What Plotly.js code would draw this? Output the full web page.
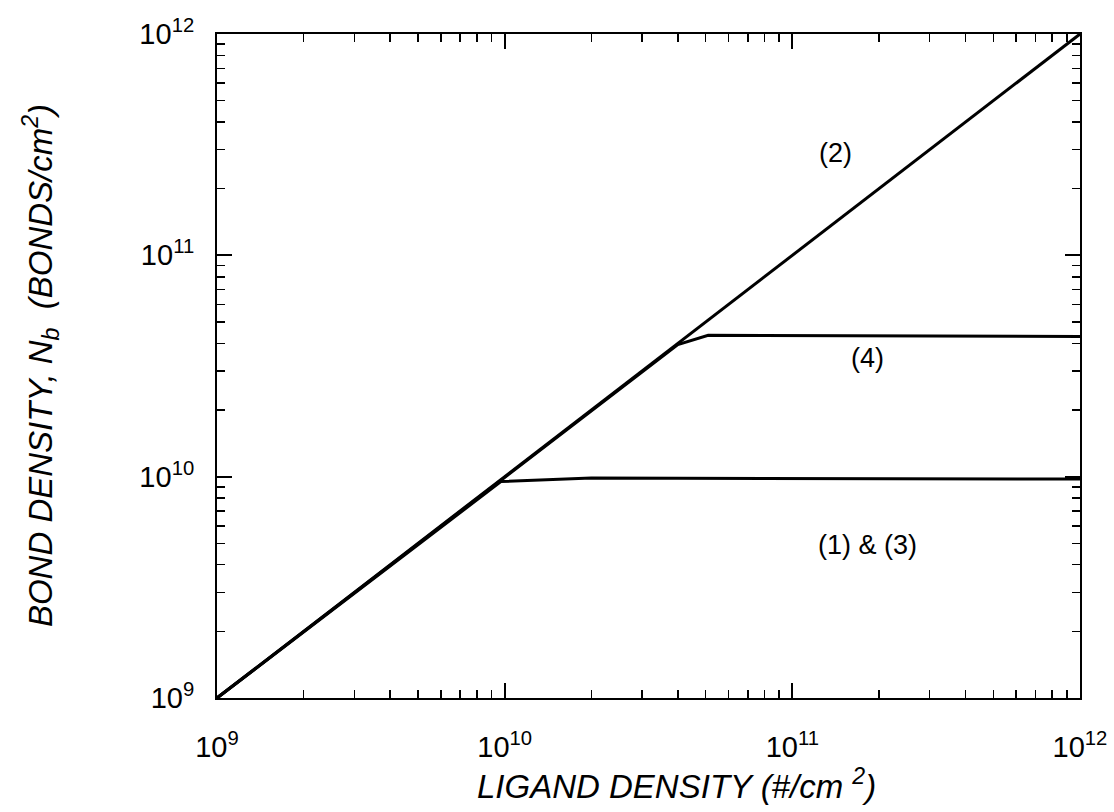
<!DOCTYPE html>
<html>
<head>
<meta charset="utf-8">
<script src="https://cdn.plot.ly/plotly-3.0.1.min.js"></script>
<style>html,body{margin:0;padding:0;background:#fff;}#chart{width:1114px;height:812px;}</style>
</head>
<body>
<div id="chart"></div>
<script>
// Curve (2): bond density equals ligand density
const curve2X = [1e9, 1e12];
const curve2Y = [1e9, 1e12];
// Curve (4)
const curve4X = [1e9, 4.0e10, 5.1e10, 1e12];
const curve4Y = [1e9, 3.95e10, 4.35e10, 4.3e10];
// Curves (1) & (3)
const curve13X = [1e9, 9.7e9, 2.0e10, 1e12];
const curve13Y = [1e9, 9.5e9, 9.85e9, 9.75e9];

const majorTicks = [1e9, 1e10, 1e11, 1e12];
const majorTickText = ['10<sup>9</sup>', '10<sup>10</sup>', '10<sup>11</sup>', '10<sup>12</sup>'];
const minorTicks = [];
[1e9, 1e10, 1e11].forEach(d => { for (let m = 2; m <= 9; m++) minorTicks.push(m * d); });

const xTitle = 'LIGAND DENSITY (#/cm&nbsp;<sup>2</sup>)';
const yTitle = 'BOND DENSITY, N<sub>b</sub>&nbsp;&nbsp;(BONDS/cm<sup>2</sup>)';

const curveLabels = [
  {text: '(2)', x: 1.41e11, y: 2.9e11},
  {text: '(4)', x: 1.83e11, y: 3.42e10},
  {text: '(1) &amp; (3)', x: 1.83e11, y: 4.9e9}
];

const font = 'Liberation Sans, Arial, Helvetica, sans-serif';
const lineStyle = {color: '#000', width: 3};

const traces = [
  {x: curve2X, y: curve2Y, mode: 'lines', line: lineStyle, name: '(2)'},
  {x: curve4X, y: curve4Y, mode: 'lines', line: lineStyle, name: '(4)'},
  {x: curve13X, y: curve13Y, mode: 'lines', line: lineStyle, name: '(1) & (3)'}
];

const axisCommon = {
  type: 'log',
  range: [9, 12],
  tickmode: 'array',
  tickvals: majorTicks,
  ticktext: majorTickText,
  ticks: 'inside',
  ticklen: 15,
  tickwidth: 2,
  tickcolor: '#000',
  showline: true,
  linecolor: '#000',
  linewidth: 2,
  mirror: 'allticks',
  showgrid: false,
  zeroline: false,
  tickfont: {family: font, size: 29, color: '#000'},
  minor: {tickmode: 'array', tickvals: minorTicks, ticks: 'inside', ticklen: 8, tickwidth: 1.5, tickcolor: '#000', showgrid: false}
};

const titleFont = {family: font, size: 33, color: '#000', style: 'italic'};

const layout = {
  width: 1114,
  height: 812,
  margin: {l: 217, r: 34, t: 34, b: 114},
  paper_bgcolor: '#fff',
  plot_bgcolor: '#fff',
  showlegend: false,
  xaxis: Object.assign({}, axisCommon, {ticklabelstandoff: 22}),
  yaxis: Object.assign({}, axisCommon, {ticklabelstandoff: 15}),
  annotations: curveLabels.map(l => ({
    text: l.text, x: Math.log10(l.x), y: Math.log10(l.y), xref: 'x', yref: 'y',
    showarrow: false, font: {family: font, size: 27, color: '#000'}
  })).concat([
    {text: xTitle, xref: 'paper', yref: 'paper', x: 0.532, y: -0.13, xanchor: 'center', yanchor: 'middle',
     showarrow: false, font: titleFont},
    {text: yTitle, xref: 'paper', yref: 'paper', x: -0.205, y: 0.5, xanchor: 'center', yanchor: 'middle',
     textangle: -90, showarrow: false, font: titleFont}
  ])
};

Plotly.newPlot('chart', traces, layout, {displayModeBar: false, staticPlot: true});
</script>
</body>
</html>
